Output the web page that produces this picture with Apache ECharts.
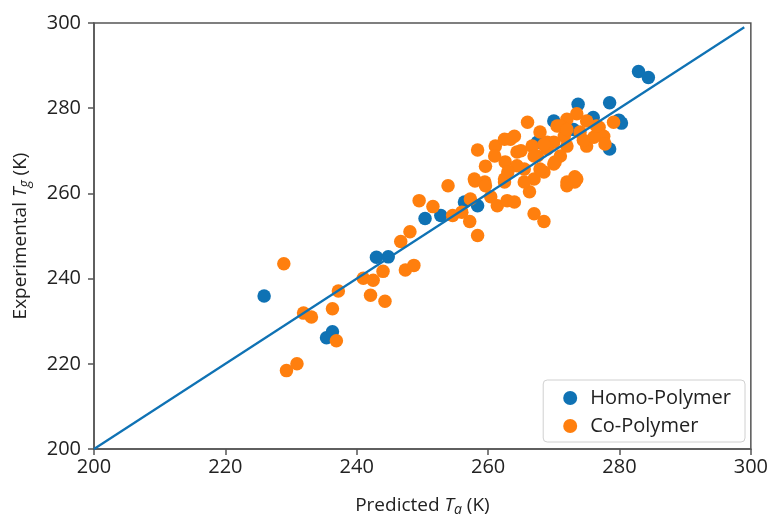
<!DOCTYPE html>
<html><head><meta charset="utf-8">
<script src="https://cdn.jsdelivr.net/npm/echarts@6/dist/echarts.min.js"></script>
<style>html,body{margin:0;padding:0;background:#fff}#c{width:771px;height:522px}</style>
</head><body><div id="c"></div>
<script>
const xTicks = [200, 220, 240, 260, 280, 300];
const yTicks = [200, 220, 240, 260, 280, 300];
const homoPolymer = [
 [225.9,235.9],[235.4,226.1],[236.3,227.5],[243.0,245.0],[244.8,245.1],[250.4,254.1],[252.8,254.8],
 [256.4,258.0],[258.4,257.1],[270.0,277.0],[273.0,275.0],[273.7,280.9],[276.0,277.8],[278.5,281.3],
 [279.9,277.2],[280.3,276.5],[278.5,270.4],[282.9,288.6],[284.4,287.2],[267.5,272.0]
];
const coPolymer = [
 [228.9,243.5],[231.9,231.9],[233.1,231.0],[237.2,237.1],[236.3,232.9],[236.9,225.4],[230.9,220.0],[229.3,218.4],
 [242.1,236.1],[244.3,234.7],[241.0,240.1],[242.5,239.6],[244.0,241.7],[247.4,242.0],[248.7,243.1],[246.7,248.7],[248.1,251.0],
 [249.5,258.3],[251.6,256.9],[253.9,261.8],[254.6,254.8],[257.2,253.4],[258.4,250.1],[257.9,263.4],[259.6,266.4],[258.4,270.2],[261.1,271.1],
 [266.0,276.7],[263.4,272.7],[262.6,267.4],[261.0,268.8],[264.4,269.7],[266.7,271.1],[267.9,274.4],[269.0,272.0],[265.5,265.7],[267.0,263.4],
 [268.5,265.0],[267.5,268.8],[262.5,262.7],[259.5,262.7],
 [258.0,262.9],[259.6,261.8],[257.3,258.7],[260.4,259.2],[261.4,257.1],[262.9,258.3],[264.0,258.0],[266.3,260.4],[267.0,255.2],[268.5,253.4],
 [265.5,262.7],[272.0,261.8],[273.2,262.7],
 [273.5,278.7],[279.1,276.7],[270.5,275.8],[272.0,277.4],[275.0,277.0],[276.9,275.5],[277.6,273.4],[277.8,271.6],[274.0,274.4],[271.6,273.4],
 [270.0,272.0],[272.0,271.1],[275.0,271.1],[271.0,268.8],[270.0,266.9],[273.2,263.9],[272.0,262.7],[276.1,273.2],
 [262.5,272.7],[264.0,273.4],[271.0,275.8],[272.0,275.0],[276.5,275.8],[269.0,270.4],[267.0,268.8],[270.2,267.4],[267.9,265.7],[273.5,263.4],
 [262.5,263.4],[264.4,266.5],[256.0,255.6],[263.0,265.0],[265.0,270.0],[268.5,271.5],[274.5,272.5]
];
const parityLine = [[200,200],[299,299]];

const FONT = 'Open Sans';
const BLUE = '#0f72b4';
const ORANGE = '#ff7f0e';
const chart = echarts.init(document.getElementById('c'));
const nameRich = {
  n: {fontSize: 19, fontFamily: FONT, color: '#222'},
  t: {fontSize: 19, fontFamily: FONT, color: '#222', fontStyle: 'italic'},
  s: {fontSize: 14, fontFamily: FONT, color: '#222', fontStyle: 'italic', padding: [9,0,0,0]}
};
chart.setOption({
  animation: false,
  grid: {left: 94, right: 16, top: 23, bottom: 70, show: true, borderColor: '#555', borderWidth: 1.5},
  legend: {
    data: ['Homo-Polymer', 'Co-Polymer'], orient: 'vertical', right: 26, bottom: 80,
    itemWidth: 14, itemHeight: 14, itemGap: 8, padding: [8, 14, 6, 20],
    borderColor: '#d0d0d0', borderWidth: 1, borderRadius: 4, backgroundColor: '#fff',
    textStyle: {fontSize: 20, fontFamily: FONT, color: '#222', padding: [0,0,0,8]}
  },
  xAxis: {
    type: 'value', min: 200, max: 300, interval: 20,
    name: '{n|Predicted }{t|T}{s|a}{n| (K)}', nameLocation: 'middle', nameGap: 45,
    nameTextStyle: {rich: nameRich},
    axisLine: {lineStyle: {color: '#555', width: 1.5}},
    axisTick: {show: true, length: 6, lineStyle: {color: '#555', width: 1.5}},
    axisLabel: {fontSize: 20, fontFamily: FONT, color: '#222', margin: 8,
      formatter: v => xTicks.includes(v) ? String(v) : ''},
    splitLine: {show: false}
  },
  yAxis: {
    type: 'value', min: 200, max: 300, interval: 20,
    name: '{n|Experimental }{t|T}{s|g}{n| (K)}', nameLocation: 'middle', nameGap: 62, nameRotate: 90,
    nameTextStyle: {rich: nameRich},
    axisLine: {lineStyle: {color: '#555', width: 1.5}},
    axisTick: {show: true, length: 6, lineStyle: {color: '#555', width: 1.5}},
    axisLabel: {fontSize: 20, fontFamily: FONT, color: '#222', margin: 13,
      formatter: v => yTicks.includes(v) ? String(v) : ''},
    splitLine: {show: false}
  },
  series: [
    {name: 'Homo-Polymer', type: 'scatter', data: homoPolymer, symbolSize: 13.5, itemStyle: {color: BLUE, opacity: 1}, z: 3},
    {name: 'Co-Polymer', type: 'scatter', data: coPolymer, symbolSize: 13.5, itemStyle: {color: ORANGE, opacity: 1}, z: 4},
    {name: 'Parity', type: 'line', data: parityLine, showSymbol: false, lineStyle: {color: BLUE, width: 2.2}, z: 5}
  ]
});
</script></body></html>
